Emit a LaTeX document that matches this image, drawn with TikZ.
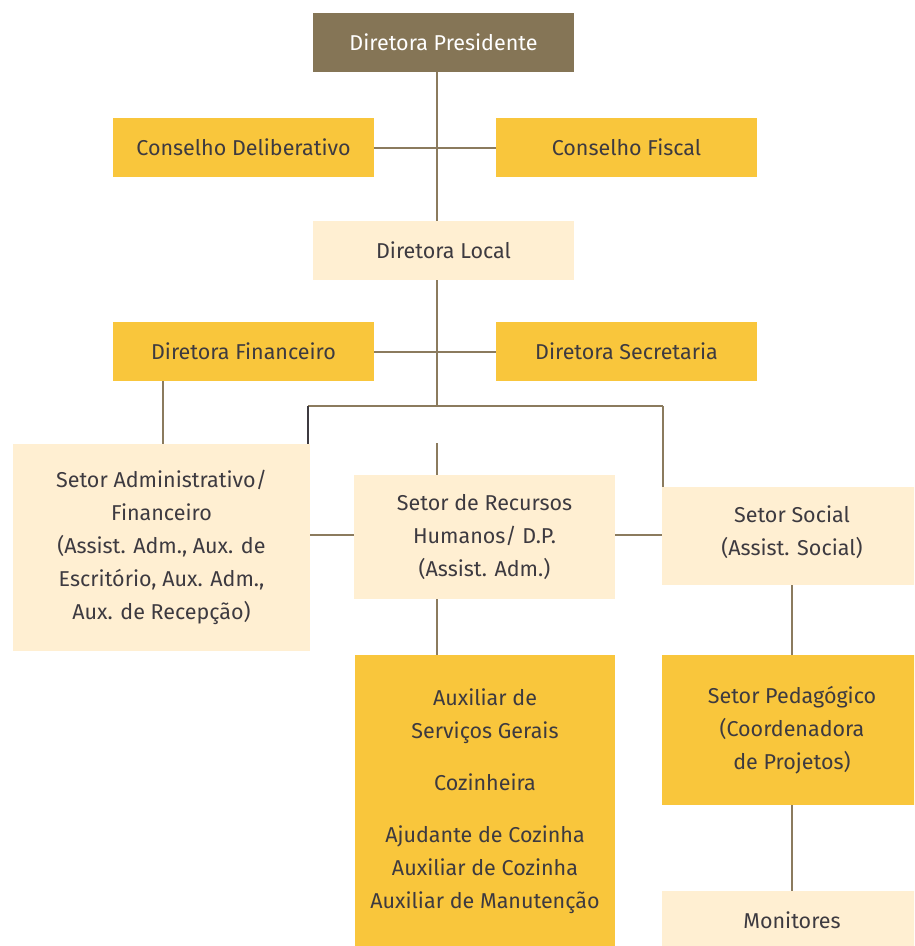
\documentclass[tikz,border=0pt]{standalone}
\usepackage{fontspec}
\setmainfont{Fira Sans}
\definecolor{brownbox}{HTML}{857556}
\definecolor{yellowbox}{HTML}{F9C63C}
\definecolor{lightbox}{HTML}{FFEFD2}
\definecolor{linecol}{HTML}{8B7B5E}
\definecolor{txt}{HTML}{3D3A40}
\definecolor{darkline}{HTML}{3D3A40}
\begin{document}
\begin{tikzpicture}[x=1pt,y=-1pt,
  box/.style={inner sep=0pt, minimum width=261pt, align=center, text=txt,
    font=\fontsize{21.5}{33}\selectfont},
  ybox/.style={box, fill=yellowbox},
  lbox/.style={box, fill=lightbox},
  conn/.style={draw=linecol, line width=2pt}]
\clip (0,0) rectangle (914,946);
\fill[white] (0,0) rectangle (914,946);
\coordinate (spine) at (437,0);
% nodes
\node[box, fill=brownbox, text=white, minimum height=59pt] (pres) at (443.5,42.5) {Diretora Presidente};
\node[ybox, minimum height=59pt] (cdel) at (243.5,147.5) {Conselho Deliberativo};
\node[ybox, minimum height=59pt] (cfis) at (626.5,147.5) {Conselho Fiscal};
\node[lbox, minimum height=59pt] (local) at (443.5,250.5) {Diretora Local};
\node[ybox, minimum height=59pt] (dfin) at (243.5,351.5) {Diretora Financeiro};
\node[ybox, minimum height=59pt] (dsec) at (626.5,351.5) {Diretora Secretaria};
\node[lbox, minimum width=297pt, minimum height=207pt] (adm) at (161.5,547.5) {Setor Administrativo/\\Financeiro\\(Assist. Adm., Aux. de\\Escritório, Aux. Adm.,\\Aux. de Recepção)};
\node[lbox, minimum height=124pt] (rh) at (484.5,537) {Setor de Recursos\\Humanos/ D.P.\\(Assist. Adm.)};
\node[lbox, minimum width=260pt, minimum height=98pt] (social) at (792,536) {};
\node[txt, align=center, font=\fontsize{21.5}{33}\selectfont, inner sep=0pt] (socialtext) at (792,532) {Setor Social\\(Assist. Social)};
\node[ybox, minimum width=260pt, minimum height=293pt] (aux) at (485,801.5) {Auxiliar de\\Serviços Gerais\\[19pt]Cozinheira\\[19pt]Ajudante de Cozinha\\Auxiliar de Cozinha\\Auxiliar de Manutenção};
\node[ybox, minimum width=260pt, minimum height=150pt] (ped) at (792,730) {Setor Pedagógico\\(Coordenadora\\de Projetos)};
\node[lbox, minimum width=260pt, minimum height=59pt] (mon) at (792,920.5) {Monitores};
% junction coordinates
\coordinate (jm) at (437,406);
\coordinate (jl) at (308,406);
\coordinate (jr) at (663,406);
\coordinate (stubtop) at (437,443);
\coordinate (hline) at (0,535);
% connectors
\draw[conn] (pres.south -| spine) -- (local.north -| spine);
\draw[conn] (cdel.east) -- (cfis.west);
\draw[conn] (local.south -| spine) -- (jm);
\draw[conn] (dfin.east) -- (dsec.west);
\draw[conn] (jl) -- (jr);
\draw[draw=darkline, line width=2pt] (jl) -- (jl |- adm.north);
\draw[conn] (jr) -- (jr |- social.north);
\draw[conn] (163,0 |- dfin.south) -- (163,0 |- adm.north);
\draw[conn] (stubtop) -- (rh.north -| spine);
\draw[conn] (adm.east |- hline) -- (rh.west |- hline);
\draw[conn] (rh.east |- hline) -- (social.west |- hline);
\draw[conn] (rh.south -| spine) -- (aux.north -| spine);
\draw[conn] (social.south) -- (ped.north);
\draw[conn] (ped.south) -- (mon.north);
\end{tikzpicture}
\end{document}
